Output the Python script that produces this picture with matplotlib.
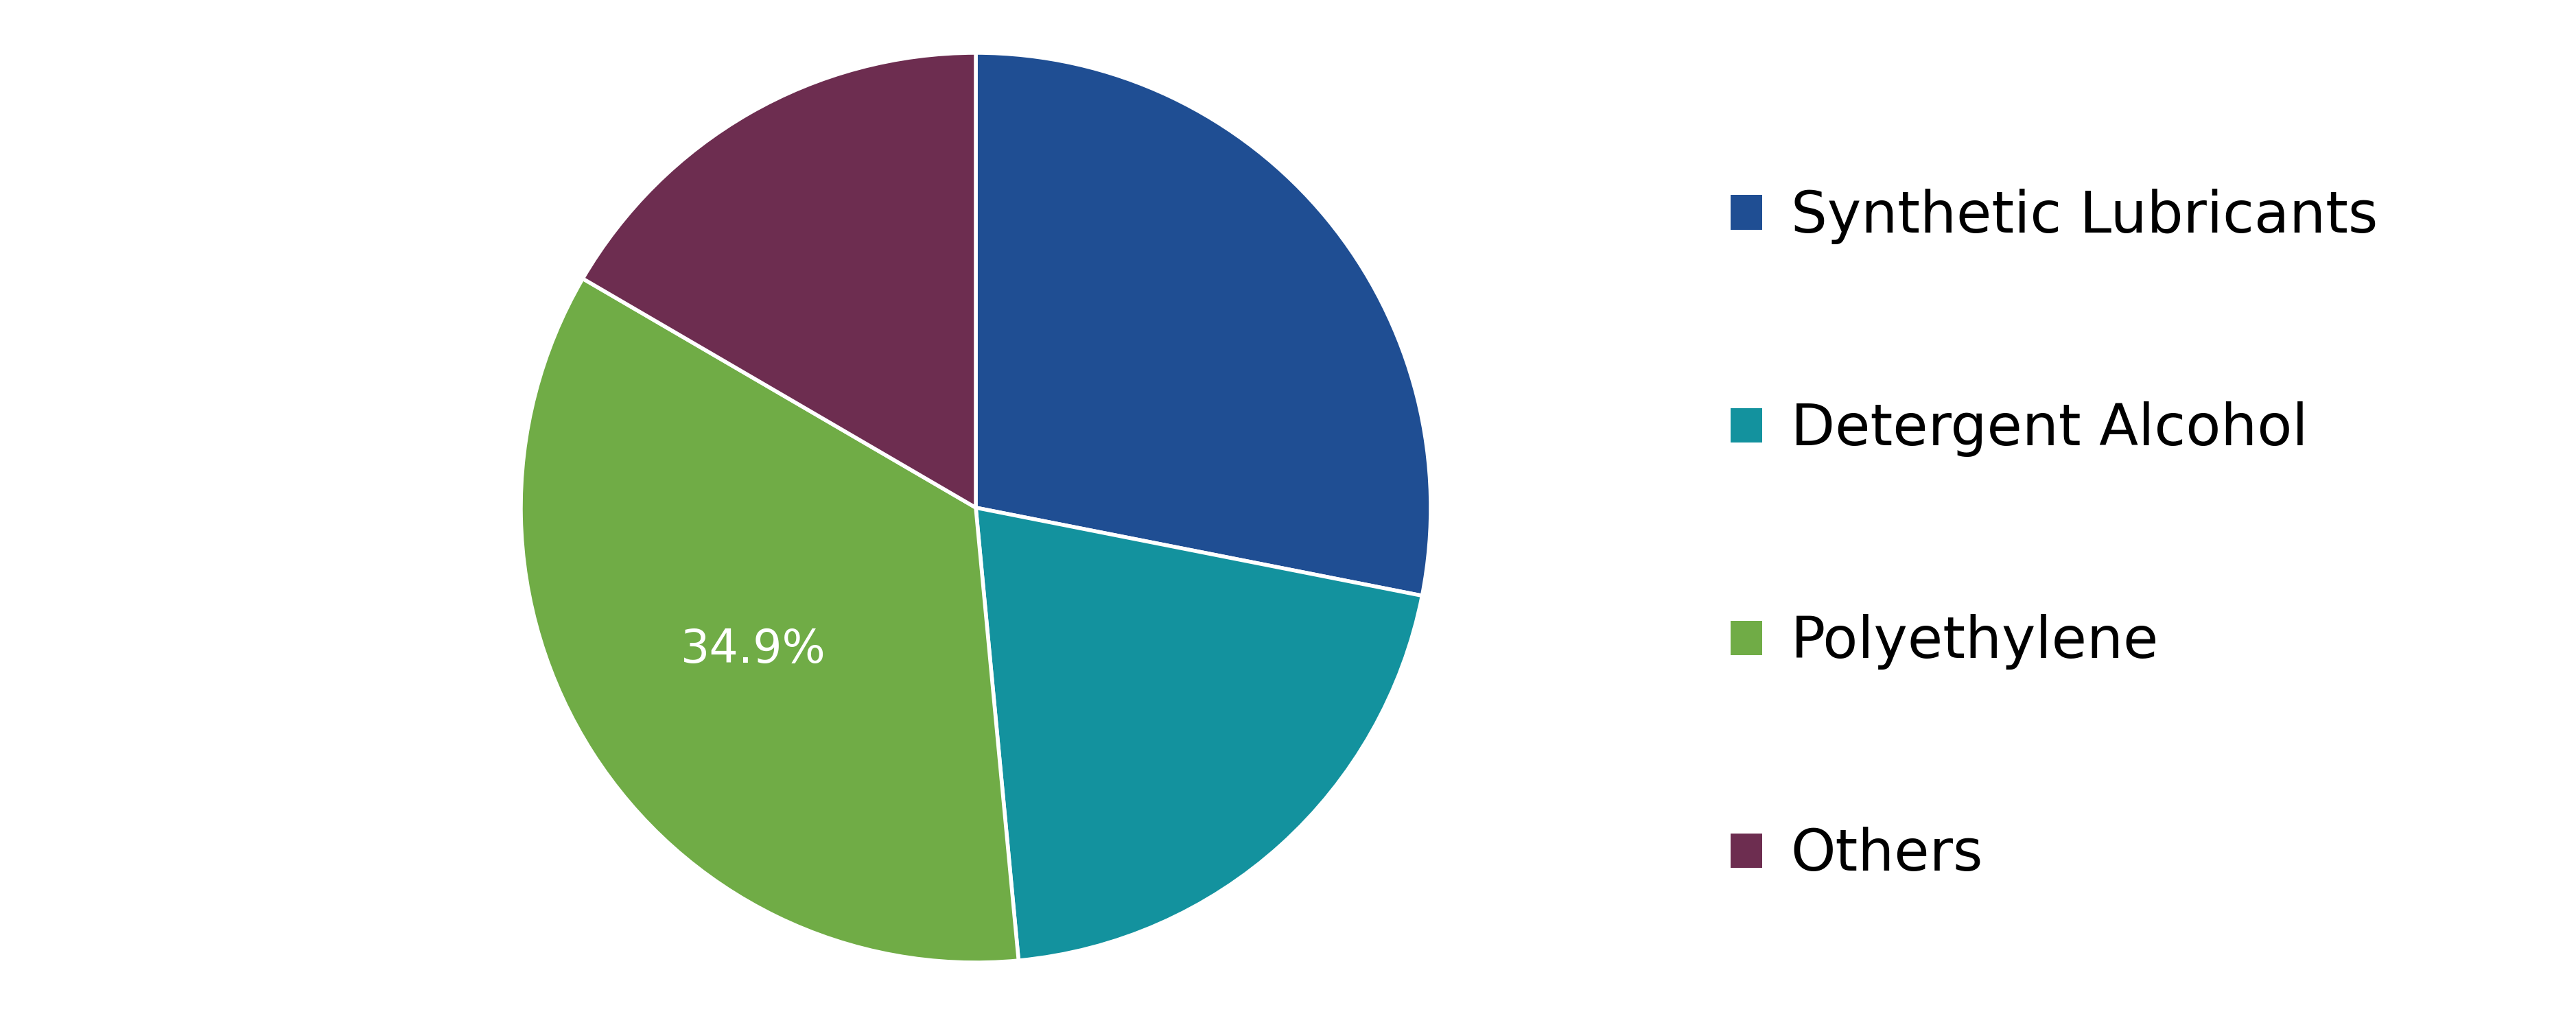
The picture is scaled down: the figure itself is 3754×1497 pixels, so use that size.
import matplotlib
matplotlib.use("Agg")
import matplotlib.pyplot as plt
from matplotlib.patches import Patch

categories = ["Synthetic Lubricants", "Detergent Alcohol", "Polyethylene", "Others"]
shares = [28.1, 20.4, 34.9, 16.6]
colors = ["#1F4E93", "#13929E", "#70AC46", "#6D2D50"]

W, H = 3754, 1497
fig = plt.figure(figsize=(W/100, H/100), dpi=100)
cx, cy, r = 1422, 757, 663
ax = fig.add_axes([(cx-r)/W, (cy-r)/H, 2*r/W, 2*r/H])

def fmt(p):
    return f"{p:.1f}%" if abs(p-34.9) < 0.05 else ""

wedges, texts, autotexts = ax.pie(shares, colors=colors, startangle=90, counterclock=False,
       autopct=fmt, pctdistance=0.58,
       wedgeprops=dict(edgecolor="white", linewidth=4),
       textprops=dict(color="white", fontsize=48))
ax.set_xlim(-1.0, 1.0)
ax.set_ylim(-1.0, 1.0)
ax.set_aspect("equal")

handles = [Patch(facecolor=c, edgecolor="none") for c in colors]
fig.legend(handles, categories, loc="upper left", bbox_to_anchor=(2447/W, 1-200/H),
           frameon=False, fontsize=60, labelspacing=2.75, handlelength=0.55, handleheight=0.55,
           handletextpad=0.5)
fig.savefig("out.png", dpi=100)
